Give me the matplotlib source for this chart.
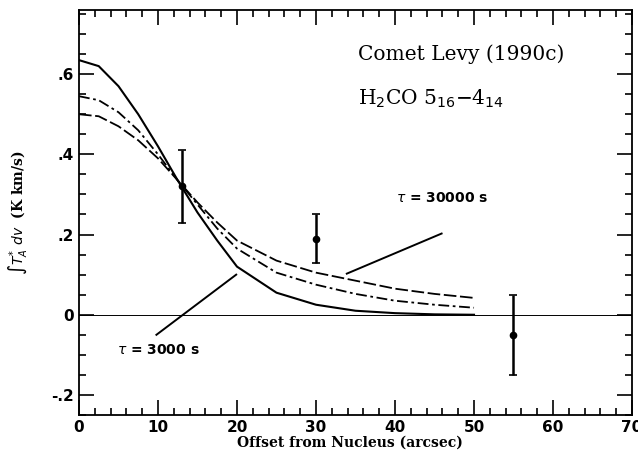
import matplotlib
matplotlib.use("Agg")
import matplotlib.pyplot as plt
from matplotlib.ticker import MultipleLocator, FixedLocator

# model curves (offset in arcsec vs integrated intensity)
offset = [0, 2.5, 5, 7.5, 10, 12.5, 15, 17.5, 20, 25, 30, 35, 40, 45, 50]
tau_3000 = [0.635, 0.62, 0.57, 0.50, 0.42, 0.335, 0.255, 0.185, 0.12, 0.055, 0.025, 0.01, 0.004, 0.001, 0.0]
tau_mid = [0.545, 0.535, 0.505, 0.46, 0.40, 0.335, 0.275, 0.215, 0.165, 0.105, 0.075, 0.052, 0.035, 0.025, 0.0175]
tau_30000 = [0.50, 0.495, 0.47, 0.435, 0.39, 0.335, 0.28, 0.23, 0.185, 0.135, 0.105, 0.085, 0.065, 0.052, 0.042]

# observed points
obs_x = [13, 30, 55]
obs_y = [0.32, 0.19, -0.05]
obs_err = [0.09, 0.06, 0.10]

fig = plt.figure(figsize=(6.38, 4.54), dpi=100)
ax = fig.add_axes([0.1238, 0.0859, 0.8668, 0.8921])

ax.axhline(0, color="black", lw=0.7)
ax.plot(offset, tau_3000, color="black", lw=1.5, ls="-")
ax.plot(offset, tau_mid, color="black", lw=1.3, ls=(0, (6, 2, 1.5, 2)))
ax.plot(offset, tau_30000, color="black", lw=1.3, ls=(0, (7, 2)))
ax.errorbar(obs_x, obs_y, yerr=obs_err, fmt="o", color="black", ms=4.5,
            elinewidth=1.8, capsize=3, capthick=1.2)

ax.set_xlim(0, 70)
ax.set_ylim(-0.25, 0.76)
ax.xaxis.set_major_locator(MultipleLocator(10))
ax.xaxis.set_minor_locator(MultipleLocator(2))
ax.yaxis.set_major_locator(FixedLocator([-0.2, 0, 0.2, 0.4, 0.6]))
ax.yaxis.set_minor_locator(MultipleLocator(0.05))
ax.set_yticklabels(["-.2", "0", ".2", ".4", ".6"])
ax.tick_params(which="both", direction="in", top=True, right=True, width=1.2)
ax.tick_params(which="major", length=11, labelsize=11)
ax.tick_params(which="minor", length=5)
for lab in ax.get_xticklabels() + ax.get_yticklabels():
    lab.set_fontweight("bold")
for s in ax.spines.values():
    s.set_linewidth(1.3)

ax.set_xlabel("Offset from Nucleus (arcsec)", family="DejaVu Serif",
              fontweight="bold", fontsize=10)
ax.xaxis.set_label_coords(0.49, -0.05)
ax.set_ylabel(r"$\int T_A^{*}\ dv$  (K km/s)", family="DejaVu Serif",
              fontweight="bold", fontsize=10)
ax.yaxis.set_label_coords(-0.09, 0.5)

ax.text(35.3, 0.635, "Comet Levy (1990c)", family="DejaVu Serif", fontsize=14.5)
ax.text(35.3, 0.525, r"H$_2$CO 5$_{16}$$-$4$_{14}$", family="DejaVu Serif", fontsize=14.5)

ax.text(46, 0.29, r"$\tau$ = 30000 s", fontsize=10, fontweight="bold",
        ha="center", va="center")
ax.plot([45.9, 33.9], [0.2025, 0.1025], color="black", lw=1.4)
ax.text(10, -0.087, r"$\tau$ = 3000 s", fontsize=10, fontweight="bold",
        ha="center", va="center")
ax.plot([19.9, 9.8], [0.10, -0.05], color="black", lw=1.4)

fig.savefig("out.png", dpi=100)
